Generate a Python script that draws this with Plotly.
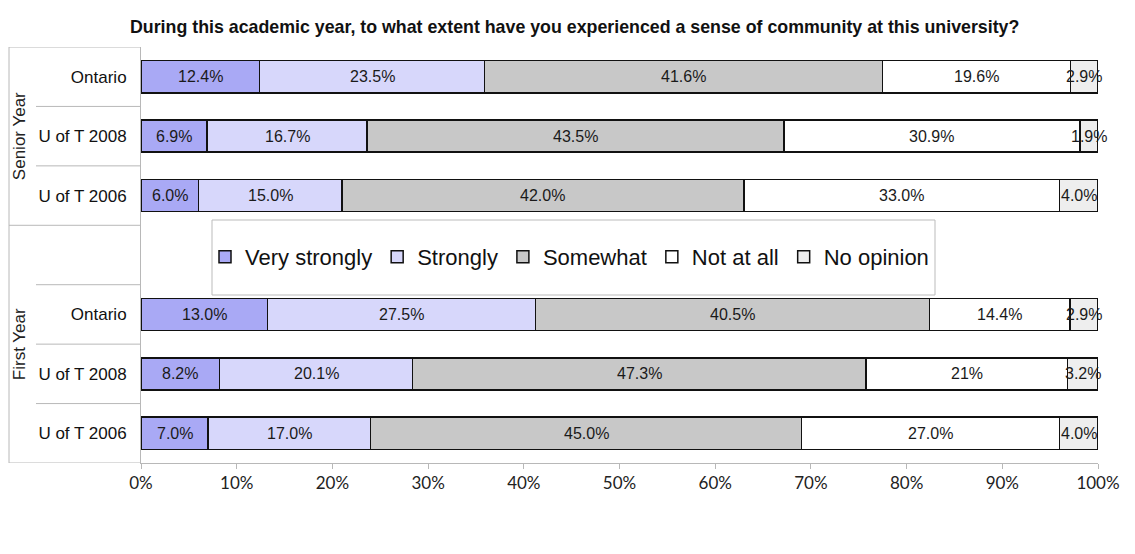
import plotly.graph_objects as go

# ---- data ----
row_labels = ["U of T 2006", "U of T 2008", "Ontario", "", "U of T 2006", "U of T 2008", "Ontario"]
row_pos = [0, 1, 2, 3, 4, 5, 6]
series_names = ["Very strongly", "Strongly", "Somewhat", "Not at all", "No opinion"]
series_colors = ["#a9a9f5", "#d7d7fb", "#c8c8c8", "#ffffff", "#eeeeee"]

# values per row (bottom -> top); row 3 is the empty gap row holding the legend
very_strongly = [7.0, 8.2, 13.0, None, 6.0, 6.9, 12.4]
strongly      = [17.0, 20.1, 27.5, None, 15.0, 16.7, 23.5]
somewhat      = [45.0, 47.3, 40.5, None, 42.0, 43.5, 41.6]
not_at_all    = [27.0, 21.0, 14.4, None, 33.0, 30.9, 19.6]
no_opinion    = [4.0, 3.2, 2.9, None, 4.0, 1.9, 2.9]

label_very_strongly = ["7.0%", "8.2%", "13.0%", "", "6.0%", "6.9%", "12.4%"]
label_strongly      = ["17.0%", "20.1%", "27.5%", "", "15.0%", "16.7%", "23.5%"]
label_somewhat      = ["45.0%", "47.3%", "40.5%", "", "42.0%", "43.5%", "41.6%"]
label_not_at_all    = ["27.0%", "21%", "14.4%", "", "33.0%", "30.9%", "19.6%"]
label_no_opinion    = ["4.0%", "3.2%", "2.9%", "", "4.0%", "1.9%", "2.9%"]

x_tick_vals = [0, 10, 20, 30, 40, 50, 60, 70, 80, 90, 100]
x_tick_text = ["0%", "10%", "20%", "30%", "40%", "50%", "60%", "70%", "80%", "90%", "100%"]

title_text = "During this academic year, to what extent have you experienced a sense of community at this university?"
group_labels = ["First Year", "Senior Year"]

series = [very_strongly, strongly, somewhat, not_at_all, no_opinion]
labels = [label_very_strongly, label_strongly, label_somewhat, label_not_at_all, label_no_opinion]

# 100% stacked: normalise each row
totals = []
for i in range(len(row_pos)):
    vals = [s[i] for s in series if s[i] is not None]
    totals.append(sum(vals) if vals else None)

# page offset of the plot div (browser default body margin)
OFF = 8
PL, PR, PT, PB = 141, 1098, 47, 463   # plot area in page pixels
PW, PH = PR - PL, PB - PT


def px(xp):
    return (xp - PL) / PW


def py(yp):
    return (PB - yp) / PH


fig = go.Figure()
annotations = []
cum = [0.0] * len(row_pos)
for name, color, vals, labs in zip(series_names, series_colors, series, labels):
    xs, ys = [], []
    for i, v in enumerate(vals):
        if v is None:
            continue
        xv = v / totals[i] * 100
        xs.append(xv)
        ys.append(row_pos[i])
        annotations.append(dict(
            x=cum[i] + xv / 2, y=row_pos[i], xref="x", yref="y",
            text=labs[i], showarrow=False,
            font=dict(family="Liberation Sans Narrow, Liberation Sans, Arial, sans-serif",
                      size=16, color="#1a1a1a"),
        ))
        cum[i] += xv
    fig.add_trace(go.Bar(
        name=name, x=xs, y=ys, orientation="h", width=0.54,
        marker=dict(color=color, line=dict(color="#111111", width=1.5)),
        hoverinfo="skip",
    ))

grp_font = dict(family="Liberation Sans, Arial, sans-serif", size=17, color="#222")
annotations.append(dict(text=group_labels[1], x=px(19), y=5, xref="paper", yref="y",
                        textangle=-90, showarrow=False, xanchor="center", yanchor="middle",
                        font=grp_font))
annotations.append(dict(text=group_labels[0], x=px(19), y=1.5, xref="paper", yref="y",
                        textangle=-90, showarrow=False, xanchor="center", yanchor="middle",
                        font=grp_font))
annotations.append(dict(text="<b>" + title_text + "</b>", x=px(574), y=py(27),
                        xref="paper", yref="paper", showarrow=False, xanchor="center", yanchor="middle",
                        font=dict(family="Liberation Sans, Arial, sans-serif", size=17.8, color="#111111")))

shapes = []
line_col = "#b8b8b8"
x_full = px(OFF + 1)
x_inner = px(36)
for yb, full in [(6.5, True), (5.5, False), (4.5, False), (3.5, True),
                 (2.5, False), (1.5, False), (0.5, False), (-0.5, True)]:
    shapes.append(dict(type="line", xref="paper", yref="y",
                       x0=x_full if full else x_inner, x1=0, y0=yb, y1=yb,
                       line=dict(color=line_col, width=1)))
shapes.append(dict(type="line", xref="paper", yref="y", x0=x_full, x1=x_full, y0=-0.5, y1=6.5,
                   line=dict(color=line_col, width=1)))
# legend frame
shapes.append(dict(type="rect", xref="paper", yref="paper",
                   x0=px(212), x1=px(935), y0=py(295), y1=py(220),
                   line=dict(color="#bbbbbb", width=1), fillcolor="rgba(0,0,0,0)"))

fig.update_layout(
    barmode="stack",
    width=1135 - OFF, height=554 - OFF,
    margin=dict(l=PL - OFF, r=1135 - PR, t=PT - OFF, b=554 - PB),
    plot_bgcolor="white", paper_bgcolor="white",
    showlegend=True,
    legend=dict(orientation="h", x=px(205), y=py(257),
                xanchor="left", yanchor="middle", bgcolor="rgba(0,0,0,0)",
                font=dict(family="Liberation Sans, Arial, sans-serif", size=22, color="#111"),
                itemwidth=30, traceorder="normal"),
    xaxis=dict(range=[0, 100], tickvals=x_tick_vals, ticktext=x_tick_text,
               showgrid=False, zeroline=False, showline=True, linecolor=line_col, linewidth=1,
               ticks="outside", ticklen=5, tickcolor=line_col,
               tickfont=dict(family="Lato, sans-serif", size=17, color="#222")),
    yaxis=dict(range=[-0.5, 6.5], tickvals=row_pos, ticktext=row_labels,
               showgrid=False, zeroline=False, showline=True, linecolor=line_col, linewidth=1,
               ticks="", ticklabelstandoff=10,
               tickfont=dict(family="Liberation Sans, Arial, sans-serif", size=17, color="#111")),
    annotations=annotations,
    shapes=shapes,
)

fig.write_html("out.html")
